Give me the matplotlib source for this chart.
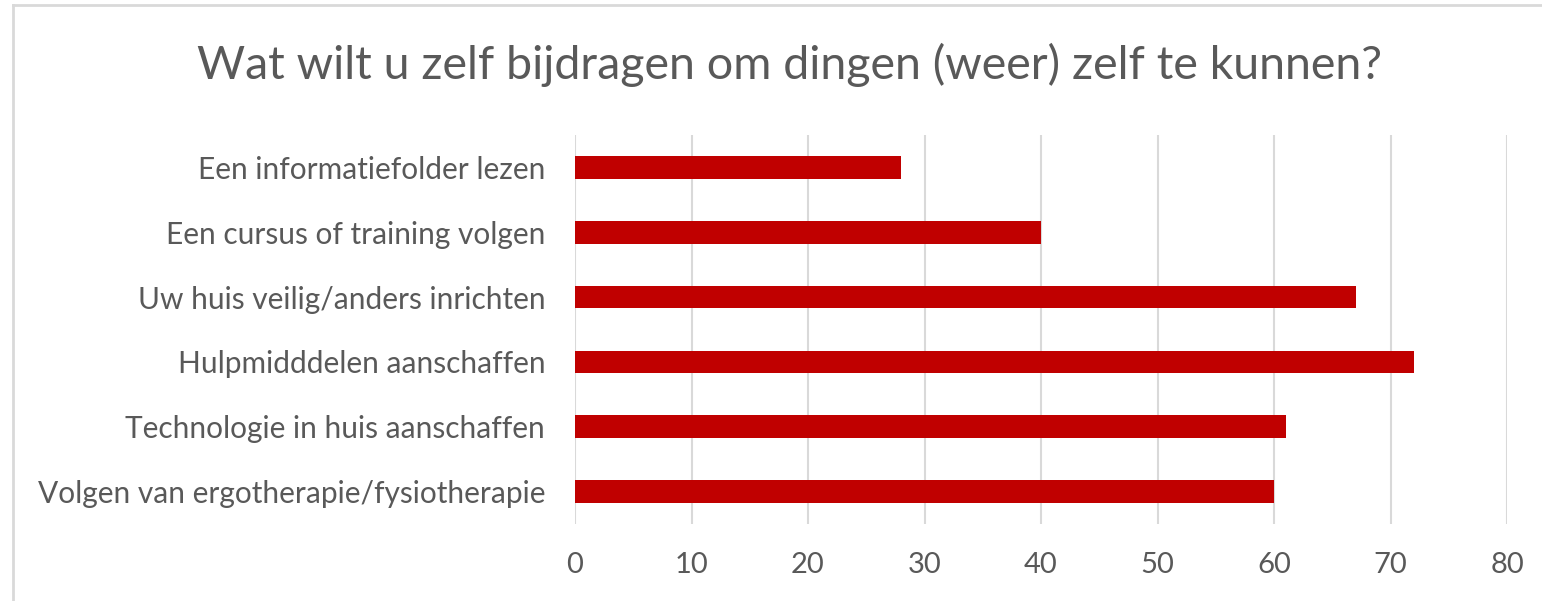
import matplotlib
matplotlib.use("Agg")
import matplotlib.pyplot as plt
from matplotlib.lines import Line2D

# antwoorden (van boven naar beneden)
categories = [
    "Een informatiefolder lezen",
    "Een cursus of training volgen",
    "Uw huis veilig/anders inrichten",
    "Hulpmidddelen aanschaffen",
    "Technologie in huis aanschaffen",
    "Volgen van ergotherapie/fysiotherapie",
]
values = [28, 40, 67, 72, 61, 60]
xticks = [0, 10, 20, 30, 40, 50, 60, 70, 80]

plt.rcParams['font.family'] = ['Lato', 'DejaVu Sans']
grey = "#595959"

fig = plt.figure(figsize=(15.42, 6.01), dpi=100)
ax = fig.add_axes([575/1542, 1 - 524/601, (1507 - 575)/1542, (524 - 135)/601])

ypos = list(range(len(categories)))
ax.barh(ypos, values, height=0.35, color="#C00000", zorder=3)
ax.set_ylim(len(categories) - 0.5, -0.5)
ax.set_xlim(0, 80)
ax.set_yticks(ypos)
ax.set_yticklabels(categories, fontsize=21.5, color=grey)
ax.set_xticks(xticks)
ax.set_xticklabels([str(t) for t in xticks], fontsize=21, color=grey)
ax.tick_params(axis='both', length=0)
ax.tick_params(axis='y', pad=21.5)
ax.tick_params(axis='x', pad=20)
ax.grid(axis='x', color="#D9D9D9", linewidth=1.5, zorder=0)
for s in ax.spines.values():
    s.set_visible(False)

fig.text(790/1542, 1 - 65/601, "Wat wilt u zelf bijdragen om dingen (weer) zelf te kunnen?",
         fontsize=33.5, color=grey, ha='center', va='center')

# rand van het grafiekgebied
fig.add_artist(Line2D([13/1542, 1], [1 - 5/601, 1 - 5/601], color="#D9D9D9", linewidth=2))
fig.add_artist(Line2D([13/1542, 13/1542], [0, 1 - 5/601], color="#D9D9D9", linewidth=2))

fig.savefig("out.png", dpi=100)
